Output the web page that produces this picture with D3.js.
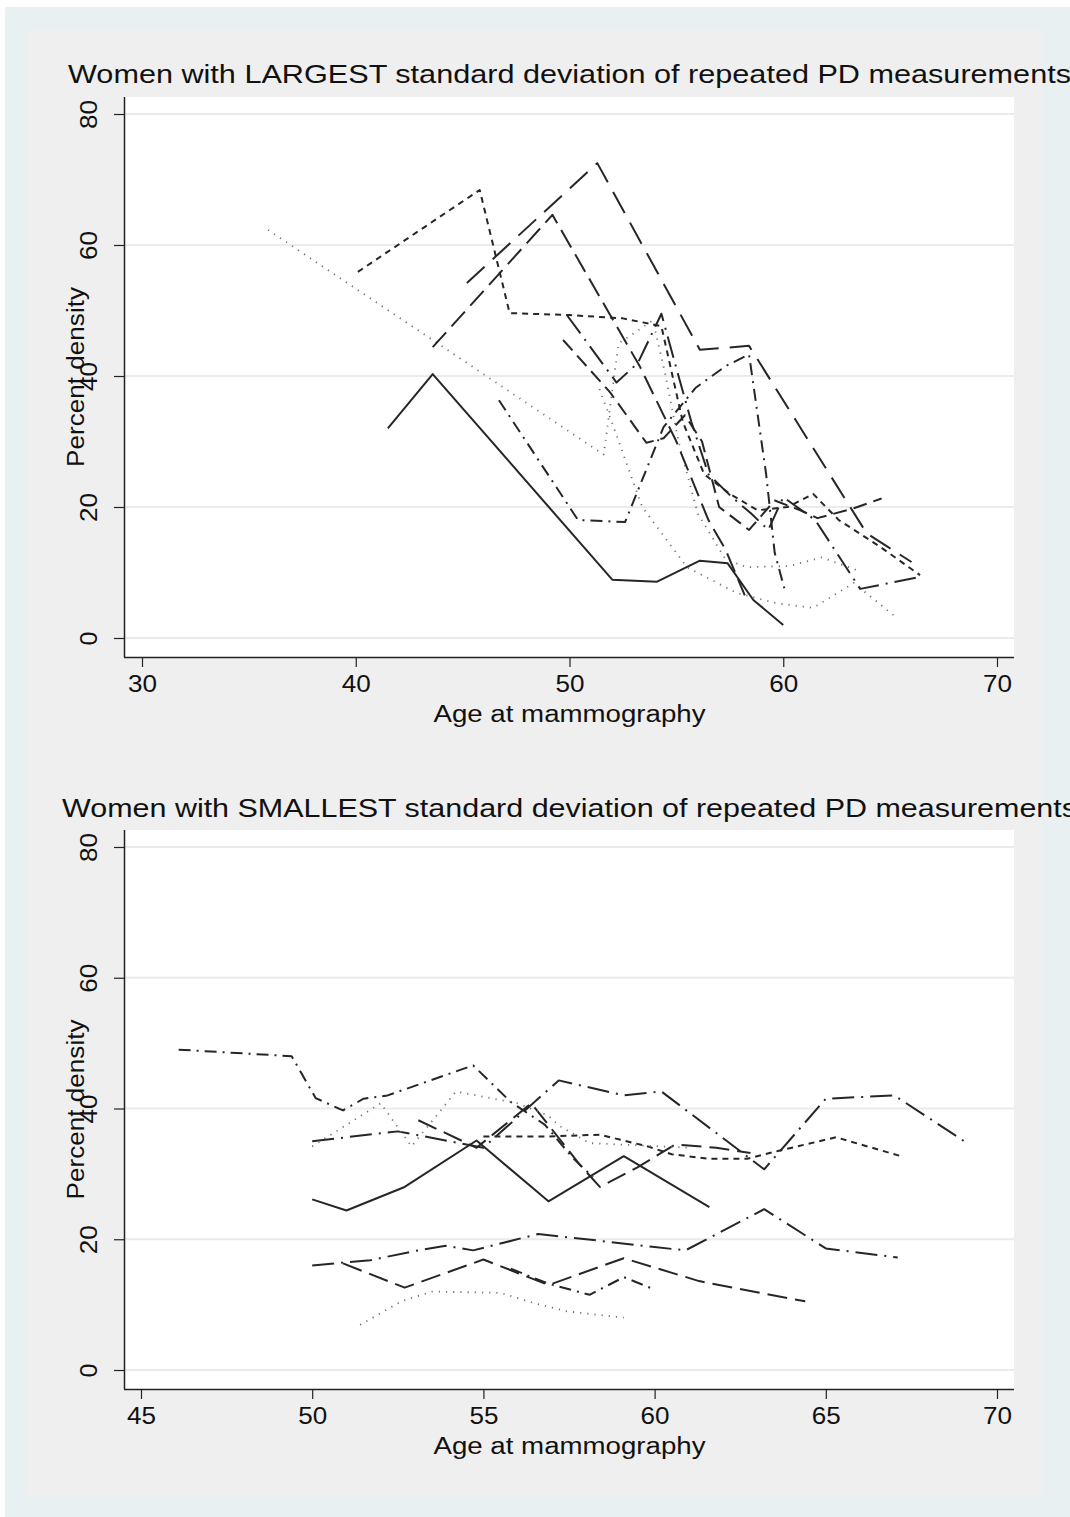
<!DOCTYPE html>
<html>
<head>
<meta charset="utf-8">
<script src="https://cdn.jsdelivr.net/npm/d3@7"></script>
<style>
  body { margin: 0; background: #fff; }
  svg text { font-family: "Liberation Sans", Arial, Helvetica, sans-serif; fill: #111; }
</style>
</head>
<body>
<svg id="chart" width="1070" height="1517"></svg>
<script>
// ---- data (age at mammography, percent density) ----
const yTicks = [0, 20, 40, 60, 80];
const largestAgeTicks = [30, 40, 50, 60, 70];
const smallestAgeTicks = [45, 50, 55, 60, 65, 70];

const largestTitle = "Women with LARGEST standard deviation of repeated PD measurements";
const smallestTitle = "Women with SMALLEST standard deviation of repeated PD measurements";
const xLabel = "Age at mammography";
const yLabel = "Percent density";

// women with largest SD
const largestW1 = [[41.5,32],[43.6,40.3],[52,8.9],[54.1,8.6],[56.1,11.8],[57.4,11.4],[58.6,5.8],[60,2]];
const largestW2 = [[35.9,62.3],[51.6,28],[52.3,45],[53,46.5],[53.9,48.5],[54.5,40],[55.1,30],[56,19],[57.3,12],[58.3,10.8],[60.3,11],[61.8,12.3],[63.5,10.3]];
const largestW3 = [[51.4,38],[52,32.8],[53.4,20],[55.5,10.8],[57.8,6.9],[59.7,5.3],[61.4,4.6],[63.3,8.4],[65.3,3.1]];
const largestW4 = [[40.1,55.9],[45.8,68.4],[47.2,49.6],[50,49.3],[52.5,48.8],[54.3,47.6],[55.3,33],[56.3,25],[57.5,22],[58.8,19.5],[60.2,20],[61.4,22],[62.6,18],[64.5,14],[66.4,9.6]];
const largestW5 = [[45.2,54.2],[51.3,72.5],[56.1,44],[58.4,44.6],[63.9,16],[66,11.6]];
const largestW6 = [[43.6,44.4],[49.2,64.6],[53.3,41.4],[55,30],[56.5,18],[57.3,13.5],[58.2,6.5]];
const largestW7 = [[46.7,36.3],[50.4,18],[52.6,17.7],[54.4,32.2],[55.9,38.2],[57.3,41.5],[58.4,43.3],[59.2,25],[59.6,13],[60.1,7]];
const largestW8 = [[49.7,45.5],[51.9,37.5],[53.6,29.8],[54.4,30.5],[55.4,34],[56.2,30],[57,20],[58.4,16.5],[59.6,21],[60.8,19.5],[61.6,18.3],[63.3,19.8],[64.6,21.3]];
const largestW9 = [[49.9,49.2],[52.2,39],[53.2,42],[54.3,49.5],[55.1,40],[55.7,33],[56.5,25],[57.6,21.5],[58.5,19],[59.3,16.5],[60,21.5],[61.5,18],[62.3,14],[63.6,7.5],[66.2,9.2]];

// women with smallest SD
const smallestW1 = [[46.1,49],[49.4,48],[50.1,41.6],[50.9,39.7],[51.5,41.5],[52.2,42],[54.7,46.6],[55.8,41],[56.8,37.5],[57.6,32.5],[58.2,29.5]];
const smallestW2 = [[50,35],[52.5,36.5],[55,34],[57.2,44.3],[59.1,42],[60.2,42.6],[63.2,30.7],[65,41.5],[67,42],[69.1,34.8]];
const smallestW3 = [[55,35.7],[56.8,35.7],[58.4,36],[59.8,34.2],[60.5,33],[61.6,32.3],[62.7,32.3],[63.6,33.5],[65.3,35.6],[67.2,32.7]];
const smallestW4 = [[53.1,38.2],[54.8,34],[56.4,40.8],[57.8,31.5],[58.4,28],[59.5,31],[60.6,34.5],[61.8,34],[62.8,33.2]];
const smallestW5 = [[50,34.2],[52,40.8],[52.9,34.2],[54.2,42.6],[56,40.8],[56.9,38.9],[57.2,37.4],[58.1,34.7],[60.2,34.2],[61,34]];
const smallestW6 = [[50,26.1],[51,24.4],[52.7,28],[54.8,35.1],[56.9,25.8],[59.1,32.7],[61.6,24.9]];
const smallestW7 = [[50,16],[51.7,16.8],[53,18.2],[53.9,19],[54.7,18.3],[56.6,20.8],[58,20],[60,18.8],[60.9,18.3],[63.2,24.6],[65,18.6],[67.1,17.2]];
const smallestW8 = [[50.9,16.3],[52.7,12.6],[55,16.9],[56.9,13],[59.1,17.1],[61.3,13.6],[64.4,10.5]];
const smallestW9 = [[55.8,15.5],[56.9,13.2],[58.1,11.5],[59.1,14.2],[60,12.3]];
const smallestW10 = [[51.4,6.9],[52.6,10.5],[53.5,12],[55.5,11.8],[56.5,10.2],[57.4,9],[59.1,8]];

const largestSeries = [largestW1, largestW2, largestW3, largestW4, largestW5, largestW6, largestW7, largestW8, largestW9];
const smallestSeries = [smallestW1, smallestW2, smallestW3, smallestW4, smallestW5, smallestW6, smallestW7, smallestW8, smallestW9, smallestW10];

// ---- styles ----
const dashes = {
  solid: null,
  dot: "1.2,6",
  shortdash: "6,5",
  dash: "14,7",
  longdash: "20,8",
  biglongdash: "24,11",
  dashdot: "12,6,2,6",
  longdashdot: "22,7,2,7"
};
const largestPatterns = ["solid", "dot", "dot", "shortdash", "biglongdash", "longdash", "dashdot", "dash", "longdashdot"];
const smallestPatterns = ["dashdot", "longdashdot", "shortdash", "longdash", "dot", "solid", "longdashdot", "longdash", "dashdot", "dot"];

const svg = d3.select("#chart");

// backgrounds
svg.append("rect").attr("x", 5).attr("y", 7).attr("width", 1065).attr("height", 1510).attr("fill", "#e9f0f2");
svg.append("rect").attr("x", 26).attr("y", 29).attr("width", 1016).attr("height", 1468).attr("fill", "#efefef");

const panels = [
  { title: largestTitle, series: largestSeries, patterns: largestPatterns, ticks: largestAgeTicks,
    xDomain: [30, 70], xRange: [142, 997], top: 97, bottom: 657, titleY: 83 },
  { title: smallestTitle, series: smallestSeries, patterns: smallestPatterns, ticks: smallestAgeTicks,
    xDomain: [45, 70], xRange: [141, 997], top: 830, bottom: 1389, titleY: 817 }
];

const plotLeft = 125, plotRight = 1014;

panels.forEach((p, pi) => {
  const g = svg.append("g");
  const x = d3.scaleLinear().domain(p.xDomain).range(p.xRange);
  const y = d3.scaleLinear().domain([0, 80]).range([p.bottom - 19, p.top + 17]);

  g.append("rect")
    .attr("x", plotLeft).attr("y", p.top)
    .attr("width", plotRight - plotLeft).attr("height", p.bottom - p.top)
    .attr("fill", "#fff");

  // gridlines
  g.selectAll(".grid").data(yTicks).join("line")
    .attr("x1", plotLeft).attr("x2", plotRight)
    .attr("y1", d => y(d)).attr("y2", d => y(d))
    .attr("stroke", "#ebebeb").attr("stroke-width", 2);

  // lines
  const line = d3.line().x(d => x(d[0])).y(d => y(d[1]));
  p.series.forEach((s, i) => {
    const pat = p.patterns[i];
    g.append("path")
      .attr("d", line(s))
      .attr("fill", "none")
      .attr("stroke", pat === "dot" ? "#707070" : "#262626")
      .attr("stroke-width", pat === "dot" ? 1.8 : 2)
      .attr("stroke-linejoin", "round")
      .attr("stroke-dasharray", dashes[pat]);
  });

  // x axis
  const xAxis = g.append("g")
    .attr("transform", `translate(0,${p.bottom})`)
    .call(d3.axisBottom(x).tickValues(p.ticks).tickSize(10).tickPadding(9).tickSizeOuter(0));
  xAxis.select(".domain").attr("d", `M${plotLeft - 1},0.5H${plotRight}`).attr("stroke", "#222").attr("stroke-width", 1.5);
  xAxis.selectAll(".tick line").attr("stroke", "#222").attr("stroke-width", 1.2);
  xAxis.selectAll(".tick text").attr("font-size", 23).attr("fill", "#111")
    .attr("textLength", 29).attr("lengthAdjust", "spacingAndGlyphs")
    .style("font-family", "Liberation Sans, Arial, sans-serif");

  // y axis
  const yAxis = g.append("g")
    .attr("transform", `translate(${plotLeft - 1},0)`)
    .call(d3.axisLeft(y).tickValues(yTicks).tickSize(10).tickSizeOuter(0));
  yAxis.select(".domain").attr("d", `M0.5,${p.top}V${p.bottom}`).attr("stroke", "#222").attr("stroke-width", 1.5);
  yAxis.selectAll(".tick line").attr("stroke", "#222").attr("stroke-width", 1.2);
  yAxis.selectAll(".tick text")
    .attr("x", null).attr("dy", null)
    .attr("text-anchor", "middle")
    .attr("transform", "translate(-27,0) rotate(-90)")
    .attr("font-size", 23).attr("fill", "#111")
    .attr("textLength", d => d === 0 ? 14 : 29).attr("lengthAdjust", "spacingAndGlyphs")
    .style("font-family", "Liberation Sans, Arial, sans-serif");

  // titles
  g.append("text")
    .attr("x", (plotLeft + plotRight) / 2).attr("y", p.titleY)
    .attr("text-anchor", "middle").attr("font-size", 25)
    .attr("textLength", pi === 0 ? 1003 : 1015).attr("lengthAdjust", "spacingAndGlyphs")
    .text(p.title);

  g.append("text")
    .attr("x", (plotLeft + plotRight) / 2).attr("y", p.bottom + 65)
    .attr("text-anchor", "middle").attr("font-size", 23)
    .attr("textLength", 272).attr("lengthAdjust", "spacingAndGlyphs")
    .text(xLabel);

  g.append("text")
    .attr("transform", `translate(84,${(p.top + p.bottom) / 2}) rotate(-90)`)
    .attr("text-anchor", "middle").attr("font-size", 23)
    .attr("textLength", 180).attr("lengthAdjust", "spacingAndGlyphs")
    .text(yLabel);
});
</script>
</body>
</html>
